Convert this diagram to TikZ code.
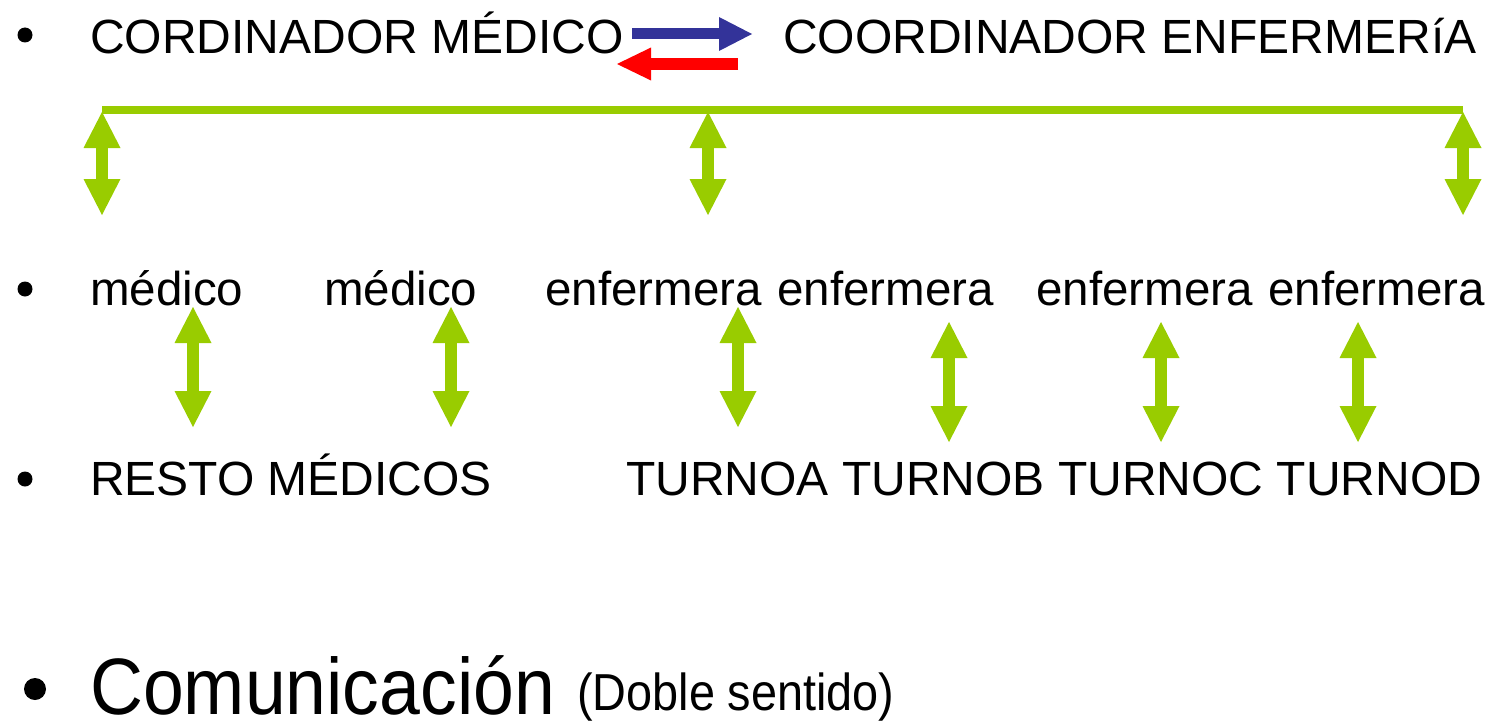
\documentclass[tikz,border=0pt]{standalone}
\usepackage{fontspec}
\setmainfont{Liberation Sans}
\usetikzlibrary{arrows.meta}
\definecolor{lgreen}{RGB}{153,204,0}
\definecolor{dblue}{RGB}{51,51,153}
\definecolor{bred}{RGB}{255,0,0}
\begin{document}
\begin{tikzpicture}[x=1pt,y=-1pt,
  txt/.style={font=\fontsize{48}{52}\selectfont, anchor=base west, inner sep=0pt},
  txtb/.style={font=\fontsize{47.5}{52}\selectfont, anchor=base west, inner sep=0pt},
  bigtxt/.style={font=\fontsize{80}{84}\selectfont, anchor=base west, inner sep=0pt},
  midtxt/.style={font=\fontsize{52}{56}\selectfont, anchor=base west, inner sep=0pt},
  bul/.style={circle, fill=black, inner sep=0pt, minimum size=15pt},
  bigbul/.style={circle, fill=black, inner sep=0pt, minimum size=22pt},
  garrow/.style={draw=lgreen, line width=12pt, {Triangle[width=37pt,length=36pt,line width=0pt]}-{Triangle[width=37pt,length=36pt,line width=0pt]}},
  gline/.style={draw=lgreen, line width=8pt},
  blarrow/.style={draw=dblue, line width=11pt, -{Triangle[width=34pt,length=33pt,line width=0pt]}},
  rdarrow/.style={draw=bred, line width=11pt, -{Triangle[width=33pt,length=34pt,line width=0pt]}}
]
\useasboundingbox (0,0) rectangle (1490,725);

% bullets
\node[bul] (b1) at (25,35) {};
\node[bul] (b2) at (25,289) {};
\node[bul] (b3) at (25,479) {};
\node[bigbul] (b4) at (35,689) {};

% line 1
\node[txt] (cm) at (90,53) {CORDINADOR MÉDICO};
\node[txt] (ce) at (783,53) {COORDINADOR ENFERMERíA};
\coordinate (bs) at (632,34);
\coordinate (be) at (752,34);
\coordinate (rs) at (738,64);
\coordinate (re) at (617,64);
\draw[blarrow] (bs) -- (be);
\draw[rdarrow] (rs) -- (re);

% green bar
\coordinate (gl) at (102,110);
\coordinate (gr) at (1463,110);
\draw[gline] (gl) -- (gr);
\coordinate (t1a) at (102,112);  \coordinate (t1b) at (102,215);
\coordinate (t2a) at (708,112);  \coordinate (t2b) at (708,215);
\coordinate (t3a) at (1463,112); \coordinate (t3b) at (1463,215);
\draw[garrow] (t1a) -- (t1b);
\draw[garrow] (t2a) -- (t2b);
\draw[garrow] (t3a) -- (t3b);

% line 2
\node[txtb] (m1) at (90,305) {médico};
\node[txtb] (m2) at (324,305) {médico};
\node[txtb] (e1) at (545,305) {enfermera};
\node[txtb] (e2) at (777,305) {enfermera};
\node[txtb] (e3) at (1036,305) {enfermera};
\node[txtb] (e4) at (1268,305) {enfermera};

% lower arrows
\coordinate (a1a) at (193,307);  \coordinate (a1b) at (193,427);
\coordinate (a2a) at (451,307);  \coordinate (a2b) at (451,427);
\coordinate (a3a) at (738,307);  \coordinate (a3b) at (738,427);
\coordinate (a4a) at (949,322);  \coordinate (a4b) at (949,442);
\coordinate (a5a) at (1161,322); \coordinate (a5b) at (1161,442);
\coordinate (a6a) at (1358,322); \coordinate (a6b) at (1358,442);
\draw[garrow] (a1a) -- (a1b);
\draw[garrow] (a2a) -- (a2b);
\draw[garrow] (a3a) -- (a3b);
\draw[garrow] (a4a) -- (a4b);
\draw[garrow] (a5a) -- (a5b);
\draw[garrow] (a6a) -- (a6b);

% line 3
\node[txt] (rm) at (90,495) {RESTO MÉDICOS};
\node[txt] (tu) at (626,495) {TURNOA TURNOB TURNOC TURNOD};

% bottom
\node[bigtxt] (co) at (90,714) {\scalebox{0.917}[1]{Comunicación}};
\node[midtxt] (ds) at (577,710) {\scalebox{0.9}[1]{(Doble sentido)}};
\end{tikzpicture}
\end{document}
